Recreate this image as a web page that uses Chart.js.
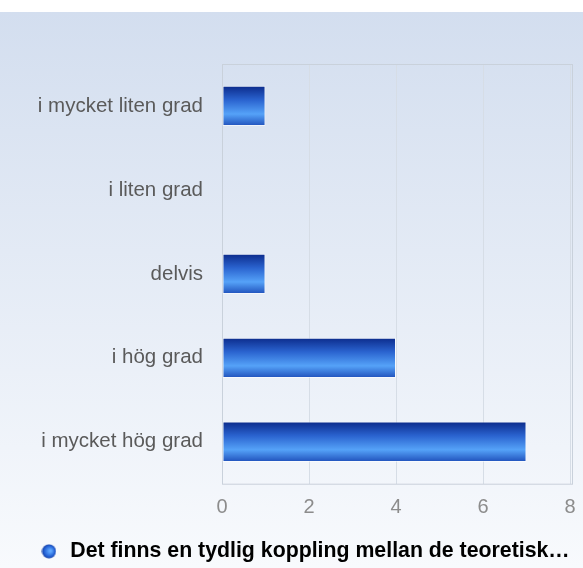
<!DOCTYPE html>
<html>
<head>
<meta charset="utf-8">
<script src="https://cdn.jsdelivr.net/npm/chart.js@4.4.0/dist/chart.umd.min.js"></script>
<style>
  html, body { margin: 0; padding: 0; background: #ffffff; }
  #wrap { width: 583px; height: 568px; position: relative; }
</style>
</head>
<body>
<div id="wrap"><canvas id="bar_chart"></canvas></div>
<script>
const categories = ["i mycket liten grad", "i liten grad", "delvis", "i hög grad", "i mycket hög grad"];
const counts = [1, 0, 1, 4, 7];
const xTicks = [0, 2, 4, 6, 8];
const seriesLabel = "Det finns en tydlig koppling mellan de teoretisk…";

const FONT = "Liberation Sans, Arial, sans-serif";

// little shaded ball for the legend
const ball = document.createElement("canvas");
ball.width = 15;
ball.height = 15;
(function () {
  const c = ball.getContext("2d");
  const g = c.createRadialGradient(9, 7, 1, 7.5, 7.5, 8);
  g.addColorStop(0, "#5fa8ff");
  g.addColorStop(0.6, "#2462d6");
  g.addColorStop(1, "#0d2f8e");
  c.fillStyle = g;
  c.beginPath();
  c.arc(7.5, 7.5, 7, 0, Math.PI * 2);
  c.fill();
})();

const backdrop = {
  id: "backdrop",
  beforeDraw(chart) {
    const { ctx, width, height } = chart;
    ctx.save();
    ctx.fillStyle = "#ffffff";
    ctx.fillRect(0, 0, width, height);
    const g = ctx.createLinearGradient(0, 12, 0, height);
    g.addColorStop(0, "#d3deef");
    g.addColorStop(1, "#f8fafd");
    ctx.fillStyle = g;
    ctx.fillRect(0, 12, width, height - 12);
    ctx.restore();
  },
  beforeDatasetsDraw(chart) {
    const { ctx, chartArea: a } = chart;
    ctx.save();
    ctx.strokeStyle = "#c9d1db";
    ctx.lineWidth = 1;
    ctx.strokeRect(a.left + 0.5, a.top + 0.5, a.right - a.left + 2, a.bottom - a.top);
    ctx.restore();
  }
};

function barFill(context) {
  const chart = context.chart;
  const y = chart.scales && chart.scales.y;
  if (!y || !chart.chartArea) return "#2462d6";
  const mid = y.getPixelForValue(context.dataIndex);
  const half = (y.height / categories.length) * 0.48 / 2;
  const g = chart.ctx.createLinearGradient(0, mid - half, 0, mid + half);
  g.addColorStop(0, "#0b2a8a");
  g.addColorStop(0.35, "#2a63cf");
  g.addColorStop(0.7, "#55a2f8");
  g.addColorStop(1, "#1f50bb");
  return g;
}

const ctx = document.getElementById("bar_chart").getContext("2d");
new Chart(ctx, {
  type: "bar",
  data: {
    labels: categories,
    datasets: [
      {
        label: seriesLabel,
        data: counts,
        backgroundColor: barFill,
        borderColor: "rgba(255,255,255,0.55)",
        borderWidth: 1,
        borderSkipped: false,
        barPercentage: 0.6,
        categoryPercentage: 0.8
      }
    ]
  },
  options: {
    indexAxis: "y",
    responsive: true,
    maintainAspectRatio: false,
    animation: false,
    layout: { padding: { top: 64, right: 0, bottom: -4, left: 25 } },
    scales: {
      x: {
        min: 0,
        max: 8,
        afterBuildTicks(scale) {
          scale.ticks = xTicks.map((v) => ({ value: v }));
        },
        afterFit(scale) {
          scale.height = 49;
          scale.paddingRight = 13; // tick padding would otherwise widen the right gap
        },
        grid: { color: "#d6dde6", drawTicks: false },
        border: { display: false },
        ticks: {
          padding: 12,
          color: "#8c8c8c",
          font: { family: FONT, size: 20 }
        }
      },
      y: {
        afterFit(scale) {
          scale.width = 197;
        },
        grid: { display: false, drawTicks: false },
        border: { display: false },
        ticks: {
          padding: 19,
          color: "#5a5a5a",
          font: { family: FONT, size: 20.5 }
        }
      }
    },
    plugins: {
      tooltip: { enabled: false },
      legend: {
        position: "bottom",
        labels: {
          usePointStyle: true,
          padding: 8,
          color: "#222222",
          font: { family: FONT, size: 21.3, weight: "bold" },
          generateLabels(chart) {
            return [
              {
                text: seriesLabel,
                fillStyle: "#2462d6",
                strokeStyle: "transparent",
                lineWidth: 0,
                pointStyle: ball,
                datasetIndex: 0,
                hidden: false
              }
            ];
          }
        }
      }
    }
  },
  plugins: [backdrop]
});
</script>
</body>
</html>
